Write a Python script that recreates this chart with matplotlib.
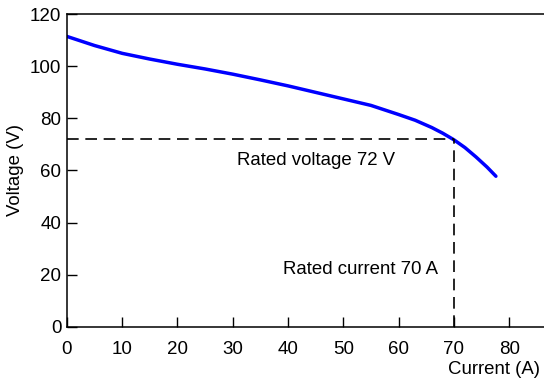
import matplotlib
matplotlib.use("Agg")
import matplotlib.pyplot as plt

plt.rcParams['font.family'] = ['Liberation Sans', 'DejaVu Sans']

# discharge curve: current (A) vs terminal voltage (V)
current = [0, 5, 10, 15, 20, 25, 30, 35, 40, 45, 50, 55, 60, 63, 66, 68, 70, 72, 74, 76, 77.6]
voltage = [111.5, 108, 105, 102.8, 100.8, 99, 97, 94.8, 92.5, 90, 87.5, 85, 81.5, 79.3, 76.5, 74.3, 71.8, 68.8, 65.2, 61.3, 57.8]

rated_current = 70
rated_voltage = 72

fig = plt.figure(figsize=(5.44, 3.81), dpi=100)
ax = fig.add_axes([0.123, 0.1425, 0.877, 0.82])

ax.plot(current, voltage, color='#0000ff', lw=2.5, solid_capstyle='round')
ax.plot([0, rated_current], [rated_voltage, rated_voltage], color='black', lw=1.2, dashes=(7, 4))
ax.plot([rated_current, rated_current], [0, rated_voltage], color='black', lw=1.2, dashes=(7, 4))

ax.text(45.1, 64, 'Rated voltage 72 V', fontsize=13.4, ha='center', va='center')
ax.text(53.1, 21.8, 'Rated current 70 A', fontsize=13.4, ha='center', va='center')

ax.set_xlim(0, 86.3)
ax.set_ylim(0, 120)
ax.set_xticks(range(0, 81, 10))
ax.set_yticks(range(0, 121, 20))
ax.spines['right'].set_visible(False)
for s in ['left', 'bottom', 'top']:
    ax.spines[s].set_linewidth(1.1)
ax.tick_params(direction='in', length=7, width=1, labelsize=13.5, top=False, right=False)
ax.tick_params(axis='x', pad=10)
ax.tick_params(axis='y', pad=4)

ax.set_ylabel('Voltage (V)', fontsize=13.4)
fig.text(494 / 544, 1 - 370 / 381, 'Current (A)', fontsize=13.4, ha='center', va='center')

fig.savefig('out.png', dpi=100)
